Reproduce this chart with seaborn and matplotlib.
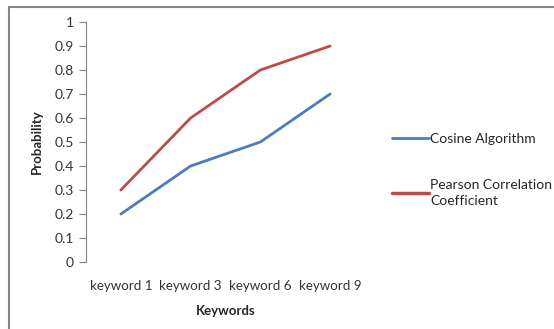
import matplotlib
matplotlib.use("Agg")
import matplotlib.pyplot as plt
import seaborn as sns
import pandas as pd
from matplotlib.lines import Line2D

keywords = ["keyword 1", "keyword 3", "keyword 6", "keyword 9"]
cosine = [0.2, 0.4, 0.5, 0.7]
pearson = [0.3, 0.6, 0.8, 0.9]
series_names = ["Cosine Algorithm", "Pearson Correlation\nCoefficient"]
yticks = [0, 0.1, 0.2, 0.3, 0.4, 0.5, 0.6, 0.7, 0.8, 0.9, 1]

df = pd.DataFrame({
    "Keywords": keywords * 2,
    "Probability": cosine + pearson,
    "series": [series_names[0]] * 4 + [series_names[1]] * 4,
})

sns.set_style("white")
plt.rcParams["font.family"] = ["Lato", "DejaVu Sans"]

fig = plt.figure(figsize=(5.54, 3.29), dpi=100)
ax = fig.add_axes([86 / 554, 67 / 329, 279 / 554, 240 / 329])

sns.lineplot(data=df, x="Keywords", y="Probability", hue="series",
             palette=["#4a7ebb", "#be4b48"], linewidth=2, ax=ax, legend=False)

ax.set_xlim(-0.5, 3.5)
ax.set_ylim(0, 1)
ax.set_yticks(yticks)
ax.set_yticklabels([f"{v:g}" for v in yticks], fontsize=10, color="#333333")
ax.tick_params(axis="y", length=5, width=0.8, color="#868686", pad=4, left=True)
ax.tick_params(axis="x", length=0, pad=13, labelsize=9.6, labelcolor="#333333")
for s in ["top", "right", "bottom"]:
    ax.spines[s].set_visible(False)
ax.spines["left"].set_color("#868686")
ax.spines["left"].set_linewidth(0.8)

ax.set_xlabel("Keywords", fontsize=9.5, fontweight="bold", labelpad=9)
ax.set_ylabel("Probability", fontsize=9.5, fontweight="bold", labelpad=8)

handles = [Line2D([], [], color="#4a7ebb", lw=2),
           Line2D([], [], color="#be4b48", lw=2.5)]
leg = fig.legend(handles, series_names, loc="upper left",
                 bbox_to_anchor=(379 / 554, 1 - 120 / 329), frameon=False,
                 fontsize=10, handlelength=2.7, handletextpad=0.1,
                 labelspacing=2.5)
for t in leg.get_texts():
    t.set_linespacing(1.35)

# outer chart frame (top and left edges)
fig.add_artist(Line2D([8.5 / 554, 1], [1 - 6.5 / 329, 1 - 6.5 / 329],
                      color="#868686", lw=1.5, transform=fig.transFigure))
fig.add_artist(Line2D([8.5 / 554, 8.5 / 554], [0, 1 - 6.5 / 329],
                      color="#868686", lw=1.5, transform=fig.transFigure))

fig.savefig("out.png", dpi=100)
